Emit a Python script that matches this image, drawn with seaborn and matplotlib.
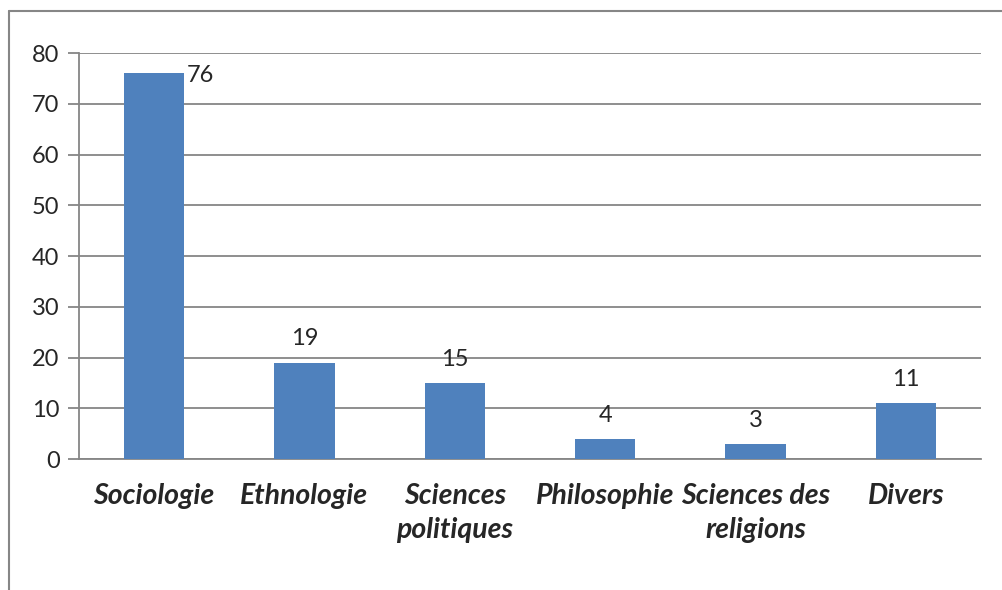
import matplotlib
matplotlib.use('Agg')
import matplotlib.pyplot as plt
import seaborn as sns
import numpy as np
import pandas as pd
from matplotlib.lines import Line2D

# Données
categories = ['Sociologie', 'Ethnologie', 'Sciences\npolitiques', 'Philosophie',
              'Sciences des\nreligions', 'Divers']
valeurs = [76, 19, 15, 4, 3, 11]
yticks = [0, 10, 20, 30, 40, 50, 60, 70, 80]

df = pd.DataFrame({'discipline': categories, 'n': valeurs})

sns.set_style('white')
plt.rcParams['font.family'] = ['Lato', 'DejaVu Sans']
grey = '#868686'

fig = plt.figure(figsize=(10.02, 5.9), dpi=100)
ax = fig.add_axes([0.0788, 0.222, 0.9002, 0.688])

sns.barplot(data=df, x='discipline', y='n', color='#4F81BD', width=0.4,
            saturation=1, linewidth=0, ax=ax, zorder=3)

ax.set_ylim(0, 80)
ax.set_xlim(-0.5, len(categories) - 0.5)
ax.set_yticks(yticks)
ax.set_yticklabels([str(v) for v in yticks], fontsize=17)
ax.yaxis.grid(True, color=grey, linewidth=1.3, zorder=0)
ax.set_axisbelow(True)

# ticks aux limites des catégories
ax.set_xticks(np.arange(len(categories)))
ax.set_xticklabels(categories, fontsize=20.5, fontweight='bold', style='italic',
                   linespacing=1.4)
ax.set_xticks(np.arange(-0.5, len(categories)), minor=True)
ax.tick_params(axis='x', which='major', length=0, pad=17)
ax.tick_params(axis='x', which='minor', length=8, width=1.3, color=grey)
ax.tick_params(axis='y', length=8, width=1.3, color=grey, pad=6, left=True)
ax.set_xlabel('')
ax.set_ylabel('')

for s in ['top', 'right']:
    ax.spines[s].set_visible(False)
for s in ['left', 'bottom']:
    ax.spines[s].set_color(grey)
    ax.spines[s].set_linewidth(1.3)

# étiquettes de valeurs
for i, v in enumerate(valeurs):
    if v >= 76:
        ax.text(i + 0.22, v - 0.5, str(v), fontsize=17, ha='left', va='center')
    else:
        ax.text(i, v + 2.6, str(v), fontsize=17, ha='center', va='bottom')

# cadre du graphique
fig.add_artist(Line2D([0.009, 0.009], [0.0, 0.981], color=grey, lw=1.5))
fig.add_artist(Line2D([0.009, 1.0], [0.981, 0.981], color=grey, lw=1.5))

plt.savefig('out.png', dpi=100)
plt.close()
